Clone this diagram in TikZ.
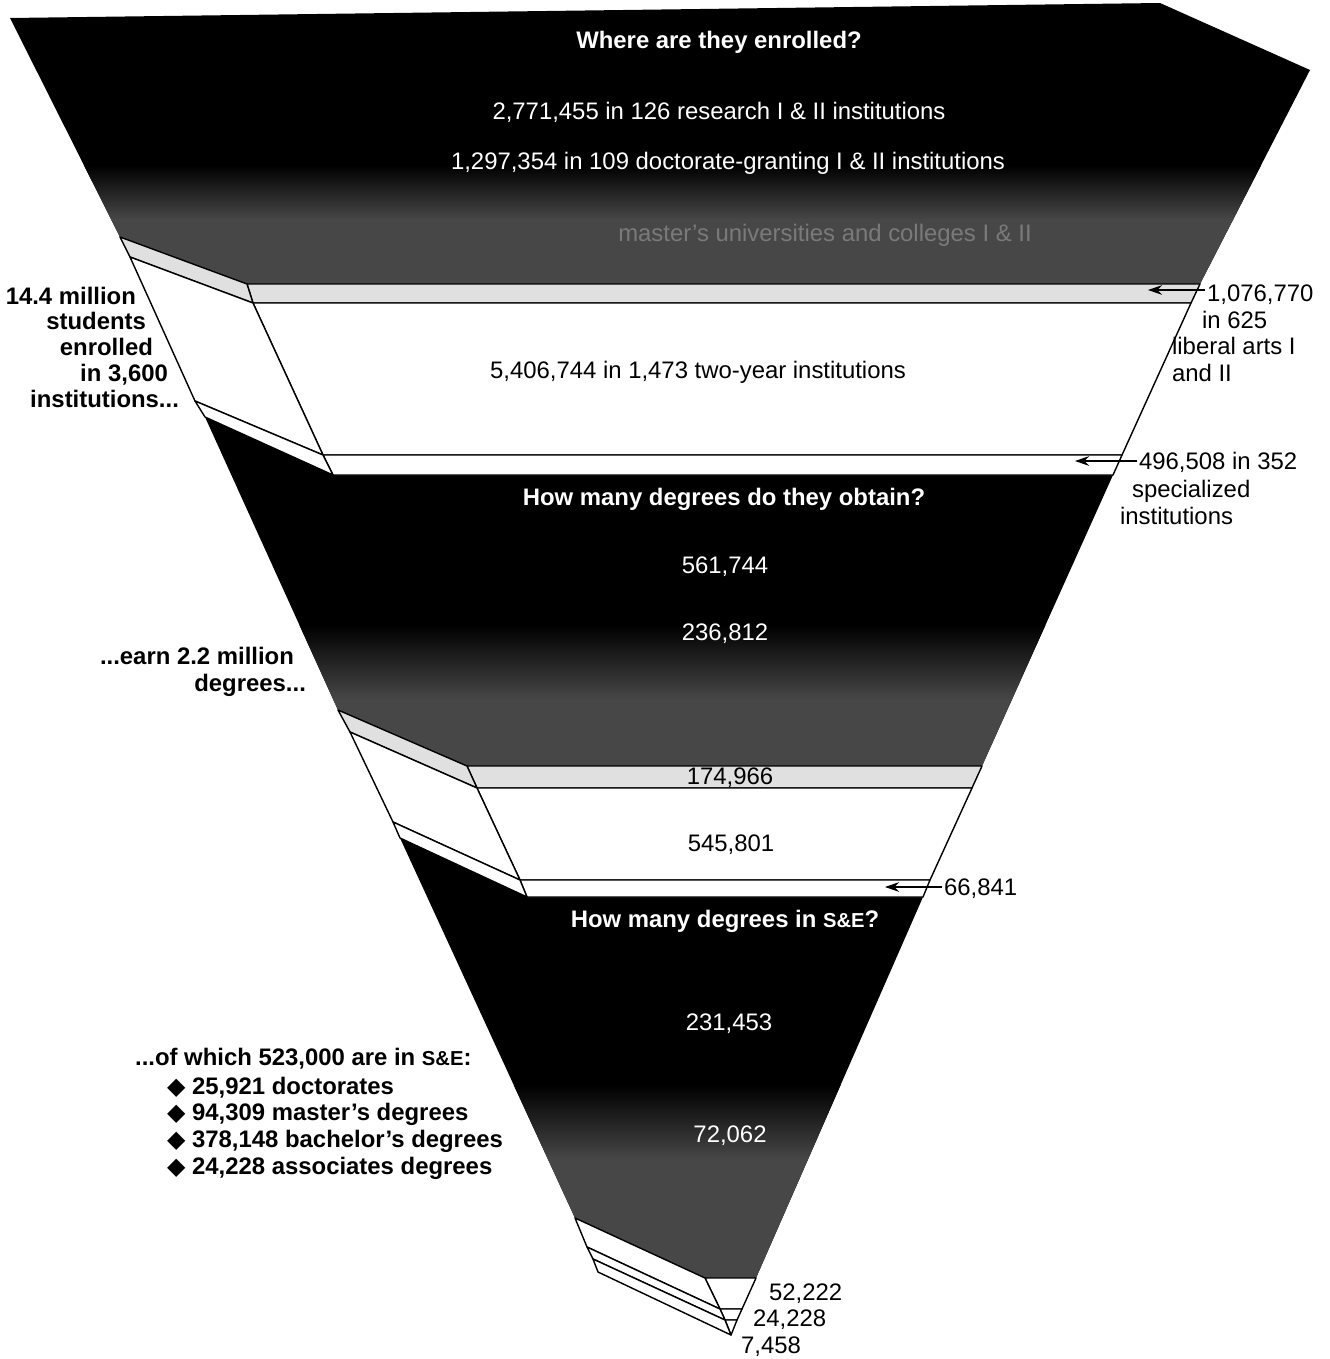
\documentclass[tikz,border=0pt]{standalone}
\usepackage{fontspec}
\setmainfont{Liberation Sans}
\newfontfamily\symbolfont{DejaVu Sans}
\usetikzlibrary{arrows.meta}
\newcommand{\sande}{{\fontsize{11.5}{13}\selectfont S\&E}}

\begin{document}
\begin{tikzpicture}[x=0.02cm, y=-0.02cm,
        every node/.style={inner sep=1pt, font=\fontsize{13.6}{15}\selectfont},
        whitetext/.style={text=white, anchor=base},
        blacktext/.style={text=black, anchor=base},
        faintext/.style={text=black!52, anchor=base},
        headtext/.style={text=white, anchor=base, font=\fontsize{13.6}{15}\selectfont\bfseries},
        leftlabel/.style={anchor=base east, font=\fontsize{13.6}{15}\selectfont\bfseries},
        rightlabel/.style={anchor=base west},
        bulletline/.style={anchor=base west, font=\fontsize{13.6}{15}\selectfont\bfseries},
        band/.style={fill=white, draw=black, line width=0.8pt, line join=round},
        speckleband/.style={band, fill=black!12},
        pointer/.style={-{Stealth[length=8pt, width=5.5pt]}, line width=0.7pt},
]
        \useasboundingbox (0,0) rectangle (1329,1359);

        \begin{scope}
            \clip (10,18) -- (1160,3) -- (1310,70) -- (1200,284) -- (247,284) -- (120,237) -- cycle;
            \fill[black] (0,0) rectangle (1329,284);
            \shade[top color=black, bottom color=black!72] (0,165) rectangle (1329,220);
            \fill[black!72] (0,219) rectangle (1329,285);
        \end{scope}
        \begin{scope}
            \clip (205,417) -- (333,475) -- (1113,475) -- (982,766) -- (467,766) -- (338,710) -- cycle;
            \fill[black] (0,410) rectangle (1329,766);
            \shade[top color=black, bottom color=black!72] (0,625) rectangle (1329,700);
            \fill[black!72] (0,699) rectangle (1329,767);
        \end{scope}
        \begin{scope}
            \clip (400,838) -- (527,897) -- (923,897) -- (756,1278) -- (705,1278) -- (575,1218) -- cycle;
            \fill[black] (0,830) rectangle (1329,1278);
            \shade[top color=black, bottom color=black!72] (0,1085) rectangle (1329,1160);
            \fill[black!72] (0,1159) rectangle (1329,1279);
        \end{scope}

        \draw[speckleband] (247,284) -- (1200,284) -- (1191,303) -- (253,303) -- cycle;
        \draw[speckleband] (120,237) -- (247,284) -- (253,303) -- (130,257) -- cycle;
        \draw[band] (253,303) -- (1191,303) -- (1122,455) -- (323,455) -- cycle;
        \draw[band] (130,257) -- (253,303) -- (323,455) -- (195,401) -- cycle;
        \draw[band] (323,455) -- (1122,455) -- (1113,475) -- (333,475) -- cycle;
        \draw[band] (195,401) -- (323,455) -- (333,475) -- (205,417) -- cycle;

        \draw[speckleband] (467,766) -- (982,766) -- (972,788) -- (477,788) -- cycle;
        \draw[speckleband] (338,710) -- (467,766) -- (477,788) -- (350,732) -- cycle;
        \draw[band] (477,788) -- (972,788) -- (930,880) -- (520,880) -- cycle;
        \draw[band] (350,732) -- (477,788) -- (520,880) -- (393,822) -- cycle;
        \draw[band] (520,880) -- (930,880) -- (923,897) -- (527,897) -- cycle;
        \draw[band] (393,822) -- (520,880) -- (527,897) -- (400,838) -- cycle;

        \draw[band] (705,1278) -- (756,1278) -- (742,1309) -- (720,1309) -- cycle;
        \draw[band] (575,1218) -- (705,1278) -- (720,1309) -- (587,1247) -- cycle;
        \draw[band] (720,1309) -- (742,1309) -- (737,1320) -- (725,1320) -- cycle;
        \draw[band] (587,1247) -- (720,1309) -- (725,1320) -- (593,1259) -- cycle;
        \draw[band] (725,1320) -- (737,1320) -- (731,1335) -- cycle;
        \draw[band] (593,1259) -- (725,1320) -- (731,1335) -- (598,1272) -- cycle;

        \node[headtext] (enrolltitle) at (719,49) {Where are they enrolled?};
        \node[whitetext] (research) at (719,119) {2,771,455 in 126 research I \& II institutions};
        \node[whitetext] (doctorate) at (728,169) {1,297,354 in 109 doctorate-granting I \& II institutions};
        \node[faintext] (masters) at (825,241) {master’s universities and colleges I \& II};
        \node[blacktext] (twoyear) at (698,378) {5,406,744 in 1,473 two-year institutions};

        \node[headtext] (degreetitle) at (724,505) {How many degrees do they obtain?};
        \node[whitetext] (deg561) at (725,573) {561,744};
        \node[whitetext] (deg236) at (725,640) {236,812};
        \node[blacktext] (deg174) at (730,784) {174,966};
        \node[blacktext] (deg545) at (731,851) {545,801};

        \node[headtext] (setitle) at (725,927) {How many degrees in \sande?};
        \node[whitetext] (se231) at (729,1030) {231,453};
        \node[whitetext] (se72) at (730,1142) {72,062};
        \node[rightlabel] (se52) at (767,1300) {52,222};
        \node[rightlabel] (se24) at (751,1326) {24,228};
        \node[rightlabel] (se7) at (739,1353) {7,458};

        \node[leftlabel] (studentsa) at (138,304) {14.4 million};
        \node[leftlabel] (studentsb) at (148,329) {students};
        \node[leftlabel] (studentsc) at (155,355) {enrolled};
        \node[leftlabel] (studentsd) at (170,381) {in 3,600};
        \node[leftlabel] (studentse) at (181,407) {institutions...};
        \node[leftlabel] (earna) at (296,664) {...earn 2.2 million};
        \node[leftlabel] (earnb) at (308,691) {degrees...};

        \node[rightlabel] (liberala) at (1205,301) {1,076,770};
        \node[rightlabel] (liberalb) at (1200,328) {in 625};
        \node[rightlabel] (liberalc) at (1170,354) {liberal arts I};
        \node[rightlabel] (liberald) at (1170,381) {and II};
        \node[rightlabel] (speciala) at (1137,469) {496,508 in 352};
        \node[rightlabel] (specialb) at (1130,497) {specialized};
        \node[rightlabel] (specialc) at (1118,524) {institutions};
        \node[rightlabel] (other66) at (942,895) {66,841};

        \node[bulletline] (sehead) at (133,1065) {...of which 523,000 are in \sande:};
        \node[bulletline] (sedoc) at (165,1094) {{\symbolfont ◆} 25,921 doctorates};
        \node[bulletline] (semas) at (165,1120) {{\symbolfont ◆} 94,309 master’s degrees};
        \node[bulletline] (sebac) at (165,1147) {{\symbolfont ◆} 378,148 bachelor’s degrees};
        \node[bulletline] (seass) at (165,1174) {{\symbolfont ◆} 24,228 associates degrees};

        \coordinate (tip1076) at (1148,290);
        \coordinate (tip496) at (1075,461);
        \coordinate (tip66) at (885,887);
        \draw[pointer] (liberala.west |- tip1076) -- (tip1076);
        \draw[pointer] (speciala.west |- tip496) -- (tip496);
        \draw[pointer] (other66.west |- tip66) -- (tip66);
\end{tikzpicture}
\end{document}
